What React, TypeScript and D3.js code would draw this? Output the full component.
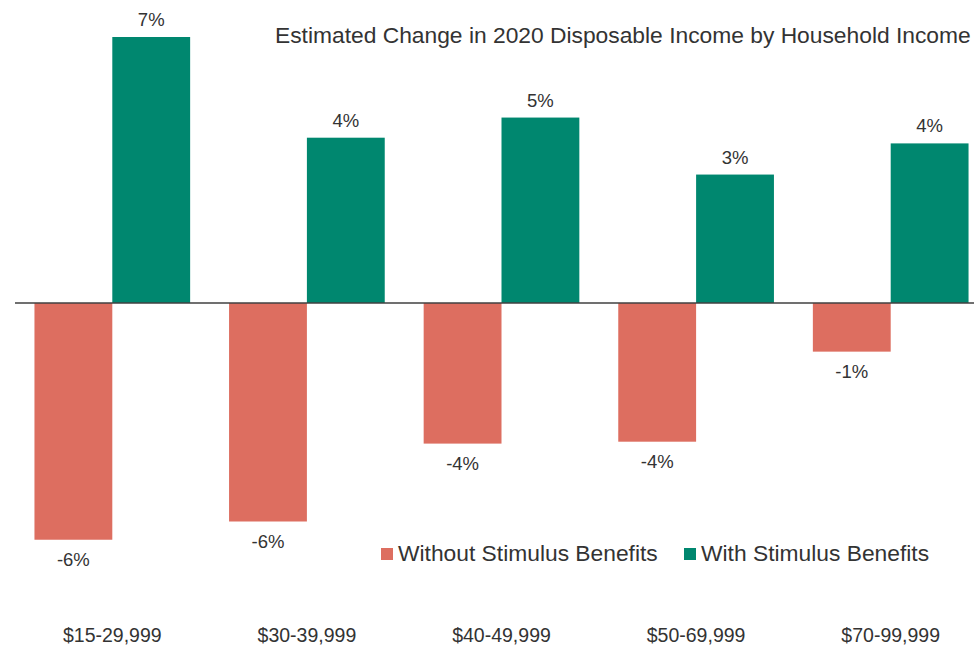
import React from "react";
import * as d3 from "d3";

const categories = ["$15-29,999", "$30-39,999", "$40-49,999", "$50-69,999", "$70-99,999"];
const seriesNames = ["Without Stimulus Benefits", "With Stimulus Benefits"];
const withoutStimulus = [-6.23, -5.75, -3.7, -3.65, -1.28];
const withStimulus = [7.0, 4.35, 4.88, 3.38, 4.2];
const valueLabels = {
  without: ["-6%", "-6%", "-4%", "-4%", "-1%"],
  with: ["7%", "4%", "5%", "3%", "4%"],
};
const title = "Estimated Change in 2020 Disposable Income by Household Income";

const W = 974;
const H = 646;
const RED = "#DD6E60";
const GREEN = "#00876F";
const TEXT = "#333333";
const FONT = "'Liberation Sans', Arial, sans-serif";

export default function App() {
  const x = d3.scaleBand<string>().domain(categories).range([15, 988]).paddingInner(0.2).paddingOuter(0.1);
  const xs = d3.scaleBand<string>().domain(["without", "with"]).range([0, x.bandwidth()]).padding(0);
  const y = d3.scaleLinear().domain([-7, 7.5]).range([303 + 7 * 38, 303 - 7.5 * 38]);
  const y0 = y(0);

  const bars: { key: string; cat: string; v: number; label: string; color: string }[] = [];
  categories.forEach((c, i) => {
    bars.push({ key: "without", cat: c, v: withoutStimulus[i], label: valueLabels.without[i], color: RED });
    bars.push({ key: "with", cat: c, v: withStimulus[i], label: valueLabels.with[i], color: GREEN });
  });

  return (
    <svg
      width={W}
      height={H}
      style={{ position: "absolute", left: 0, top: 0, background: "#fff" }}
      fontFamily={FONT}
    >
      <rect x={0} y={0} width={W} height={H} fill="#fff" />
      {bars.map((b, i) => {
        const bx = (x(b.cat) as number) + (xs(b.key) as number);
        const bw = xs.bandwidth();
        const top = Math.min(y(b.v), y0);
        const h = Math.abs(y(b.v) - y0);
        const ly = b.v >= 0 ? y(b.v) - 11 : y(b.v) + 26;
        return (
          <g key={i}>
            <rect x={bx} y={top} width={bw} height={h} fill={b.color} />
            <text x={bx + bw / 2} y={ly} textAnchor="middle" fontSize={18.5} fill={TEXT}>
              {b.label}
            </text>
          </g>
        );
      })}
      <line x1={15} x2={974} y1={y0} y2={y0} stroke="#404040" strokeWidth={1.5} />
      <text x={275} y={43} fontSize={22.8} fill={TEXT}>
        {title}
      </text>
      {categories.map((c) => (
        <text
          key={c}
          x={(x(c) as number) + x.bandwidth() / 2}
          y={642}
          textAnchor="middle"
          fontSize={19.5}
          fill={TEXT}
        >
          {c}
        </text>
      ))}
      <g>
        <rect x={381} y={548} width={12} height={12} fill={RED} />
        <text x={398} y={561} fontSize={22.8} fill={TEXT}>
          {seriesNames[0]}
        </text>
        <rect x={684} y={548} width={12} height={12} fill={GREEN} />
        <text x={701} y={561} fontSize={22.8} fill={TEXT}>
          {seriesNames[1]}
        </text>
      </g>
    </svg>
  );
}
